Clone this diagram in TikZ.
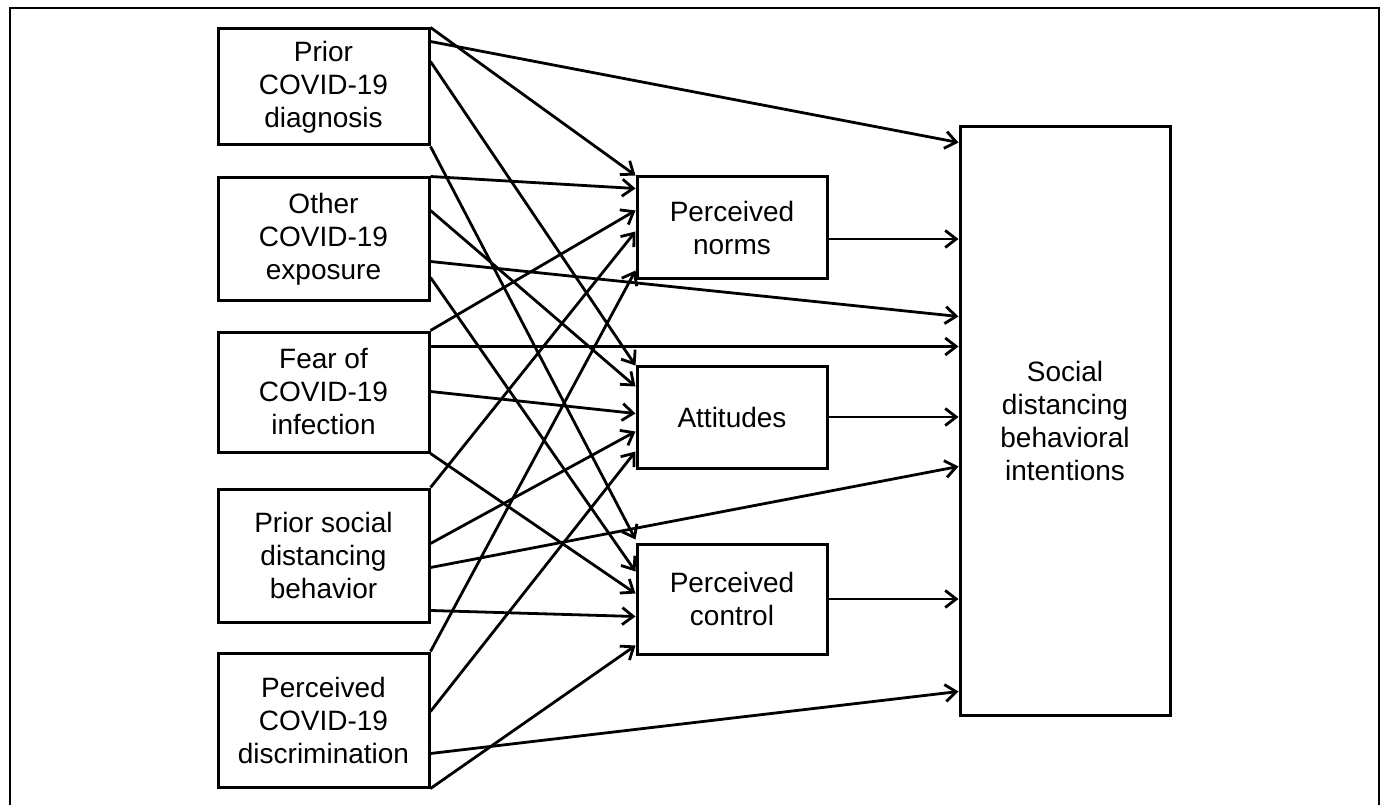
\documentclass[tikz,border=0pt]{standalone}
\usepackage{fontspec}
\setmainfont{Liberation Sans}
\usetikzlibrary{arrows.meta}
\begin{document}
\begin{tikzpicture}[x=1pt,y=-1pt,
    box/.style={draw,line width=3pt,inner sep=0pt,align=center,font=\fontsize{28}{33}\selectfont},
    leftbox/.style={box,minimum width=211pt},
    midbox/.style={box,minimum width=190pt},
    arr/.style={line width=2.8pt,-{Straight Barb[length=11pt,width=17pt]}}]
    \useasboundingbox (0,0) rectangle (1382,805);
    \draw[line width=2.5pt] (10,805) -- (10,8) -- (1379,8) -- (1379,805);
    % predictors
    \node[leftbox,minimum height=116pt] (diag) at (323.5,87) {Prior\\COVID-19\\diagnosis};
    \node[leftbox,minimum height=122pt] (expo) at (323.5,239) {Other\\COVID-19\\exposure};
    \node[leftbox,minimum height=120pt] (fear) at (323.5,392) {Fear of\\COVID-19\\infection};
    \node[leftbox,minimum height=133pt] (prior) at (323.5,555.5) {Prior social\\distancing\\behavior};
    \node[leftbox,minimum height=134pt] (discr) at (323.5,720) {Perceived\\COVID-19\\discrimination};
    % mediators
    \node[midbox,minimum height=102pt] (norms) at (732,228) {Perceived\\norms};
    \node[midbox,minimum height=102pt] (att) at (732,417) {Attitudes};
    \node[midbox,minimum height=110pt] (ctrl) at (732,599) {Perceived\\control};
    % outcome
    \node[box,minimum width=210pt,minimum height=588pt] (sdbi) at (1065,421) {Social\\distancing\\behavioral\\intentions};
    % from prior diagnosis
    \draw[arr] (diag.north east) -- (norms.north west);
    \draw[arr] ([yshift=-14pt]diag.north east) -- ([yshift=-17pt]sdbi.north west);
    \draw[arr] ([yshift=-34pt]diag.north east) -- ([yshift=-1pt]att.north west);
    \draw[arr] (diag.south east) -- ([yshift=3pt]ctrl.north west);
    % from other exposure
    \draw[arr] (expo.north east) -- ([yshift=-13pt]norms.north west);
    \draw[arr] ([yshift=-34pt]expo.north east) -- ([yshift=-22pt]att.north west);
    \draw[arr] ([yshift=-85pt]expo.north east) -- ([yshift=-191pt]sdbi.north west);
    \draw[arr] ([yshift=-101pt]expo.north east) -- ([yshift=-29pt]ctrl.north west);
    % from fear
    \draw[arr] (fear.north east) -- ([yshift=-35pt]norms.north west);
    \draw[arr] ([yshift=-16pt]fear.north east) -- ([yshift=-221pt]sdbi.north west);
    \draw[arr] ([yshift=-61pt]fear.north east) -- ([yshift=-49pt]att.north west);
    \draw[arr] (fear.south east) -- ([yshift=-51pt]ctrl.north west);
    % from prior social distancing
    \draw[arr] (prior.north east) -- ([yshift=-56pt]norms.north west);
    \draw[arr] ([yshift=-56pt]prior.north east) -- ([yshift=-67pt]att.north west);
    \draw[arr] ([yshift=-80pt]prior.north east) -- ([yshift=-341pt]sdbi.north west);
    \draw[arr] ([yshift=-123pt]prior.north east) -- ([yshift=-74pt]ctrl.north west);
    % from discrimination
    \draw[arr] (discr.north east) -- ([yshift=-95pt]norms.north west);
    \draw[arr] ([yshift=-60pt]discr.north east) -- ([yshift=-87pt]att.north west);
    \draw[arr] ([yshift=-102pt]discr.north east) -- ([yshift=-566pt]sdbi.north west);
    \draw[arr] (discr.south east) -- ([yshift=-103pt]ctrl.north west);
    % mediators to outcome
    \coordinate (n1) at ([yshift=-11pt]norms.east);
    \draw[arr] (n1) -- (n1 -| sdbi.west);
    \draw[arr] (att.east) -- (att.east -| sdbi.west);
    \draw[arr] (ctrl.east) -- (ctrl.east -| sdbi.west);
\end{tikzpicture}
\end{document}
